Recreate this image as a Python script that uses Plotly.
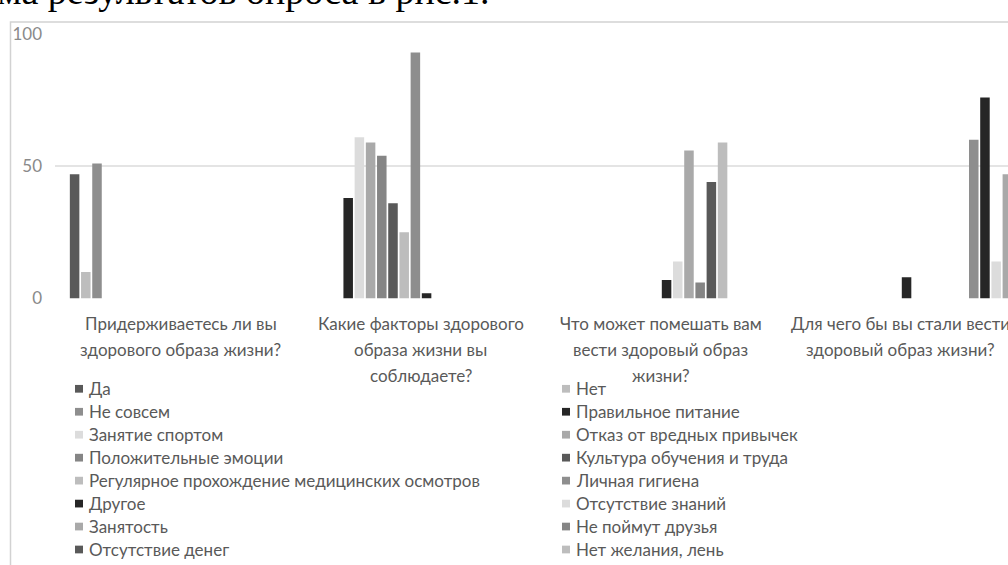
import plotly.graph_objects as go

# ---------------- data ----------------
category_lines = [
    ["Придерживаетесь ли вы", "здорового образа жизни?"],
    ["Какие факторы здорового", "образа жизни вы", "соблюдаете?"],
    ["Что может помешать вам", "вести здоровый образ", "жизни?"],
    ["Для чего бы вы стали вести", "здоровый образ жизни?"],
]
categories = [" ".join(l) for l in category_lines]

series_names = [
    "Да", "Нет", "Не совсем", "Правильное питание", "Занятие спортом",
    "Отказ от вредных привычек", "Положительные эмоции", "Культура обучения и труда",
    "Регулярное прохождение медицинских осмотров", "Личная гигиена", "Другое",
    "Отсутствие знаний", "Занятость", "Не поймут друзья", "Отсутствие денег",
    "Нет желания, лень", "Сохранение здоровья", "Хорошее самочувствие",
    "Красивая фигура", "Долголетие",
]

values_q1 = [47, 10, 51, None, None, None, None, None, None, None, None,
             None, None, None, None, None, None, None, None, None]
values_q2 = [None, None, None, 38, 61, 59, 54, 36, 25, 93, 2,
             None, None, None, None, None, None, None, None, None]
values_q3 = [None, None, None, None, None, None, None, None, None, None, 7,
             14, 56, 6, 44, 59, None, None, None, None]
values_q4 = [None, None, None, None, None, None, None, None, None, None, 8,
             None, None, None, None, None, 60, 76, 14, 47]

y_ticks = [0, 50, 100]

title_text = "Диаграмма результатов опроса в рис.1."

# ---------------- style ----------------
BLACK, VLIGHT, LMID, MID, DARK, LIGHT, MID2 = (
    "#262626", "#dcdcdc", "#a9a9a9", "#858585", "#595959", "#bdbdbd", "#8e8e8e")
series_colors = [DARK, LIGHT, MID2,
                 BLACK, VLIGHT, LMID, MID, DARK, LIGHT, MID2,
                 BLACK, VLIGHT, LMID, MID, DARK, LIGHT, MID2,
                 BLACK, VLIGHT, LMID]

W, H = 1008, 565
FONT = "Lato"
TXT = "#595959"
FS = 17


def px(x):
    return x / W


def py(y):
    return 1 - y / H


fig = go.Figure()
for i, name in enumerate(series_names):
    fig.add_trace(go.Bar(
        x=categories,
        y=[values_q1[i], values_q2[i], values_q3[i], values_q4[i]],
        name=name,
        marker=dict(color=series_colors[i], line=dict(width=0)),
        showlegend=False,
    ))

annotations = []
# category labels
for ci, lines in enumerate(category_lines):
    for li, line in enumerate(lines):
        annotations.append(dict(
            x=categories[ci], xref="x", y=py(325 + li * 27), yref="paper",
            text=line, showarrow=False, xanchor="center", yanchor="middle",
            font=dict(family=FONT, size=FS, color=TXT)))

# legend (two columns, row-major like Excel)
shapes = []
for i, name in enumerate(series_names):
    row, col = divmod(i, 2)
    yc = 392.7 + row * 23.8
    mx = 75 if col == 0 else 562
    shapes.append(dict(type="rect", xref="paper", yref="paper",
                       x0=px(mx), x1=px(mx + 8), y0=py(yc + 4), y1=py(yc - 4),
                       fillcolor=series_colors[i], line=dict(width=0)))
    annotations.append(dict(
        x=px(mx + 12), xref="paper", y=py(yc), yref="paper", text=name,
        showarrow=False, xanchor="left", yanchor="middle",
        font=dict(family=FONT, size=FS, color=TXT)))

# chart frame
shapes.append(dict(type="rect", xref="paper", yref="paper",
                   x0=px(10.5), x1=1.2, y0=-0.2, y1=py(12.5),
                   line=dict(color="#d2d2d2", width=1.5), fillcolor="rgba(0,0,0,0)",
                   layer="below"))

# document text above the chart (only its lower part is visible)
annotations.append(dict(
    x=px(492), xref="paper", y=py(4.5), yref="paper", text=title_text,
    showarrow=False, xanchor="right", yanchor="bottom",
    font=dict(family="Liberation Serif", size=38, color="#000000")))

fig.update_layout(
    width=W, height=H,
    margin=dict(l=0, r=0, t=0, b=0),
    paper_bgcolor="white", plot_bgcolor="white",
    barmode="group", bargap=0.0667, bargroupgap=0.15,
    xaxis=dict(domain=[px(55), 1], range=[-0.525, 3.446],
               showticklabels=False, showgrid=False, zeroline=False,
               showline=False, ticks=""),
    yaxis=dict(domain=[py(299), py(24.45)], range=[0, 100.2],
               tickvals=y_ticks, ticktext=[str(v) for v in y_ticks],
               showgrid=True, gridcolor="#e4e4e4", gridwidth=2,
               zeroline=False, showline=False, ticks="",
               ticklabelstandoff=12,
               tickfont=dict(family=FONT, size=FS, color="#8a8a8a")),
    annotations=annotations,
    shapes=shapes,
    showlegend=False,
)

fig.write_html("out.html")
